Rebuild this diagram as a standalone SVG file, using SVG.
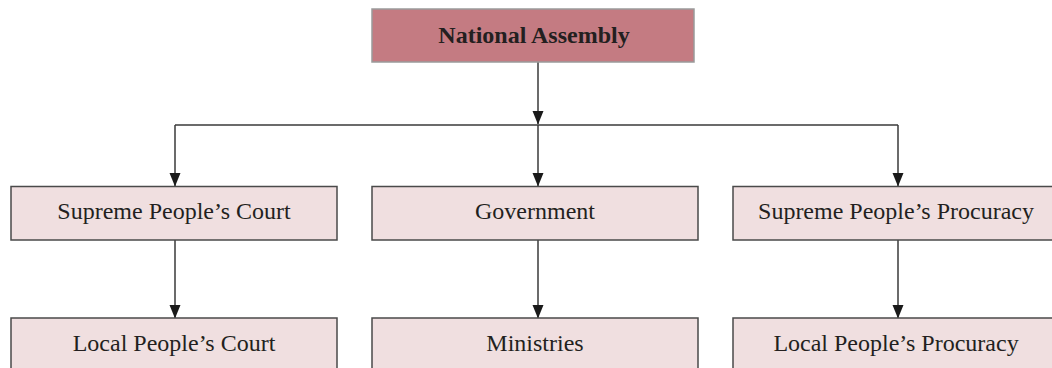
<svg xmlns="http://www.w3.org/2000/svg" width="1052" height="368" viewBox="0 0 1052 368">
<defs>
<style>
.top{fill:#c47b82;stroke:#9a9a9a;stroke-width:1.5}
.box{fill:#f0dfe0;stroke:#4a4a4a;stroke-width:1.5}
.t{font-family:"Liberation Serif","Times New Roman",serif;font-size:24px;fill:#231f20;text-anchor:middle}
.b{font-weight:bold}
.c{fill:none;stroke:#3a3a3a;stroke-width:1.5}
</style>
<marker id="ad" markerUnits="userSpaceOnUse" markerWidth="14" markerHeight="12" refX="13" refY="6" orient="auto" viewBox="0 0 14 12">
<path d="M0,0.5 L13.5,6 L0,11.5 Z" fill="#1a1a1a"/>
</marker>
</defs>
<g id="connectors">
<path class="c" d="M538,62 V124" marker-end="url(#ad)"/>
<path class="c" d="M175,125 H898"/>
<path class="c" d="M175,125 V186" marker-end="url(#ad)"/>
<path class="c" d="M538,125 V186" marker-end="url(#ad)"/>
<path class="c" d="M898,125 V186" marker-end="url(#ad)"/>
<path class="c" d="M175,240 V318" marker-end="url(#ad)"/>
<path class="c" d="M538,240 V318" marker-end="url(#ad)"/>
<path class="c" d="M898,240 V318" marker-end="url(#ad)"/>
</g>
<g id="national-assembly">
<rect class="top" x="372" y="9" width="322" height="53"/>
<text class="t b" x="534" y="43">National Assembly</text>
</g>
<g id="supreme-court">
<rect class="box" x="11" y="186.5" width="326" height="53.5"/>
<text class="t" x="174" y="219">Supreme People’s Court</text>
</g>
<g id="government">
<rect class="box" x="372" y="186.5" width="326" height="53.5"/>
<text class="t" x="535" y="219">Government</text>
</g>
<g id="supreme-procuracy">
<rect class="box" x="733" y="186.5" width="326" height="53.5"/>
<text class="t" x="896" y="219">Supreme People’s Procuracy</text>
</g>
<g id="local-court">
<rect class="box" x="11" y="318" width="326" height="53.5"/>
<text class="t" x="174" y="351">Local People’s Court</text>
</g>
<g id="ministries">
<rect class="box" x="372" y="318" width="326" height="53.5"/>
<text class="t" x="535" y="351">Ministries</text>
</g>
<g id="local-procuracy">
<rect class="box" x="733" y="318" width="326" height="53.5"/>
<text class="t" x="896" y="351">Local People’s Procuracy</text>
</g>
</svg>
